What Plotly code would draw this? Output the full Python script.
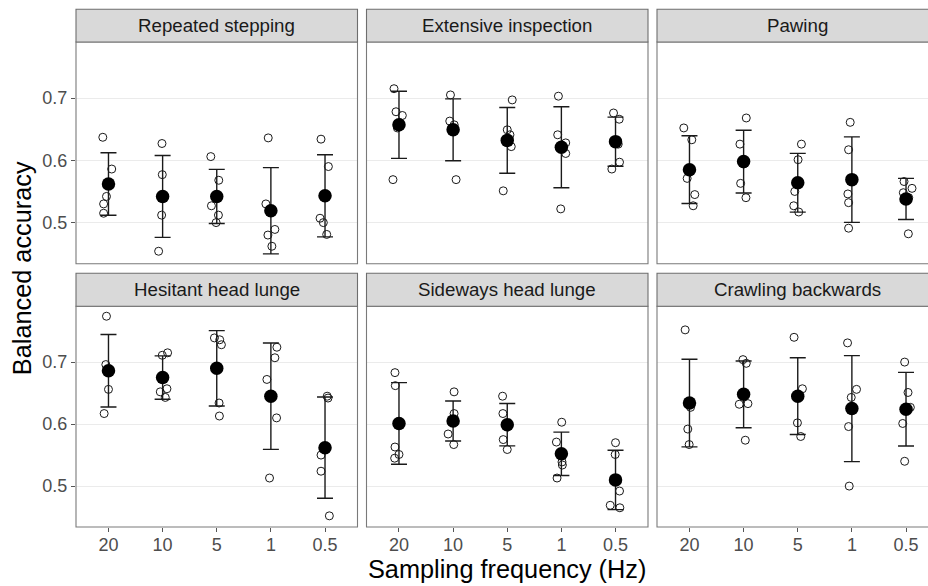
import plotly.graph_objects as go

W, H = 928, 586

behaviours = ["Repeated stepping", "Extensive inspection", "Pawing",
              "Hesitant head lunge", "Sideways head lunge", "Crawling backwards"]
freq_labels = ["20", "10", "5", "1", "0.5"]

# ---- Repeated stepping
stepping_mean = [0.562, 0.542, 0.542, 0.519, 0.543]
stepping_sd = [0.0501, 0.0657, 0.0435, 0.0692, 0.0660]
stepping_runs = [[0.637, 0.586, 0.542, 0.530, 0.515],
                 [0.627, 0.577, 0.512, 0.454, 0.541],
                 [0.606, 0.568, 0.527, 0.512, 0.500],
                 [0.636, 0.530, 0.489, 0.480, 0.462],
                 [0.634, 0.590, 0.507, 0.500, 0.481]]
stepping_jitter = [[-0.105, 0.06, -0.037, -0.09, -0.09],
                   [-0.012, -0.006, -0.018, -0.074, 0.0],
                   [-0.11, 0.037, -0.098, 0.031, -0.012],
                   [-0.049, -0.092, 0.074, -0.055, 0.018],
                   [-0.074, 0.062, -0.092, -0.031, 0.031]]

# ---- Extensive inspection
inspection_mean = [0.657, 0.649, 0.632, 0.621, 0.630]
inspection_sd = [0.0539, 0.0496, 0.0528, 0.0651, 0.0394]
inspection_runs = [[0.715, 0.678, 0.672, 0.569, 0.652],
                   [0.705, 0.663, 0.569, 0.652, 0.657],
                   [0.697, 0.649, 0.622, 0.551, 0.641],
                   [0.703, 0.641, 0.628, 0.522, 0.611],
                   [0.676, 0.666, 0.597, 0.586, 0.626]]
inspection_jitter = [[-0.092, -0.055, 0.062, -0.111, -0.03],
                     [-0.049, -0.062, 0.055, -0.03, 0.02],
                     [0.092, 0.0, 0.074, -0.074, 0.05],
                     [-0.055, -0.068, 0.08, -0.012, 0.08],
                     [-0.037, 0.068, 0.074, -0.068, 0.05]]

# ---- Pawing
pawing_mean = [0.585, 0.598, 0.564, 0.569, 0.538]
pawing_sd = [0.0544, 0.0504, 0.0472, 0.0686, 0.0330]
pawing_runs = [[0.652, 0.633, 0.571, 0.545, 0.527],
               [0.668, 0.626, 0.563, 0.540, 0.594],
               [0.626, 0.601, 0.550, 0.527, 0.517],
               [0.661, 0.617, 0.546, 0.532, 0.491],
               [0.566, 0.555, 0.482, 0.548, 0.540]]
pawing_jitter = [[-0.105, 0.043, -0.043, 0.098, 0.068],
                 [0.049, -0.068, -0.055, 0.043, 0.0],
                 [0.068, 0.006, -0.055, -0.074, 0.018],
                 [-0.031, -0.061, -0.074, -0.061, -0.061],
                 [-0.037, 0.111, 0.043, -0.05, 0.05]]

# ---- Hesitant head lunge
hesitant_mean = [0.686, 0.675, 0.690, 0.645, 0.562]
hesitant_sd = [0.0584, 0.0350, 0.0608, 0.0858, 0.0817]
hesitant_runs = [[0.774, 0.696, 0.656, 0.617, 0.688],
                 [0.715, 0.711, 0.657, 0.652, 0.643],
                 [0.739, 0.736, 0.728, 0.634, 0.613],
                 [0.724, 0.707, 0.672, 0.610, 0.513],
                 [0.642, 0.645, 0.550, 0.524, 0.452]]
hesitant_jitter = [[-0.037, -0.049, 0.0, -0.08, 0.02],
                   [0.092, -0.006, 0.08, -0.043, 0.049],
                   [-0.043, 0.055, 0.086, 0.043, 0.049],
                   [0.111, 0.074, -0.074, 0.105, -0.025],
                   [0.055, 0.04, -0.074, -0.074, 0.08]]

# ---- Sideways head lunge
sideways_mean = [0.601, 0.605, 0.599, 0.552, 0.510]
sideways_sd = [0.0659, 0.0323, 0.0342, 0.0350, 0.0479]
sideways_runs = [[0.683, 0.662, 0.563, 0.545, 0.551],
                 [0.652, 0.617, 0.584, 0.567, 0.605],
                 [0.645, 0.617, 0.575, 0.559, 0.599],
                 [0.603, 0.571, 0.539, 0.534, 0.513],
                 [0.570, 0.551, 0.492, 0.469, 0.465]]
sideways_jitter = [[-0.074, -0.068, -0.074, -0.08, 0.0],
                   [0.018, 0.018, -0.092, 0.012, -0.01],
                   [-0.086, -0.08, -0.074, 0.0, 0.01],
                   [0.006, -0.092, 0.012, 0.018, -0.08],
                   [0.0, -0.006, 0.074, -0.098, 0.08]]

# ---- Crawling backwards
crawling_mean = [0.634, 0.648, 0.645, 0.625, 0.624]
crawling_sd = [0.0707, 0.0538, 0.0619, 0.0855, 0.0594]
crawling_runs = [[0.752, 0.592, 0.567, 0.632, 0.627],
                 [0.704, 0.698, 0.632, 0.633, 0.574],
                 [0.740, 0.657, 0.602, 0.580, 0.648],
                 [0.731, 0.656, 0.643, 0.596, 0.500],
                 [0.700, 0.651, 0.601, 0.540, 0.627]]
crawling_jitter = [[-0.08, -0.031, -0.006, 0.01, 0.02],
                   [-0.012, 0.049, -0.08, 0.08, 0.031],
                   [-0.068, 0.086, -0.006, 0.055, 0.0],
                   [-0.08, 0.086, -0.012, -0.061, -0.049],
                   [-0.025, 0.037, -0.061, -0.025, 0.08]]

y_ticks = [0.5, 0.6, 0.7]
y_range = [0.434, 0.790]

panel_data = [
    (stepping_mean, stepping_sd, stepping_runs, stepping_jitter),
    (inspection_mean, inspection_sd, inspection_runs, inspection_jitter),
    (pawing_mean, pawing_sd, pawing_runs, pawing_jitter),
    (hesitant_mean, hesitant_sd, hesitant_runs, hesitant_jitter),
    (sideways_mean, sideways_sd, sideways_runs, sideways_jitter),
    (crawling_mean, crawling_sd, crawling_runs, crawling_jitter),
]

# ---- layout geometry (pixels)
col_px = [(76, 357.5), (366.5, 648), (657, 938.5)]  # last panel is cut by the image edge
row_px = [(42, 263.7), (306.3, 527)]                 # plot areas (top, bottom)
strip_px = [(9.3, 42), (273.3, 306.3)]

FONT = "Liberation Sans, Arial, sans-serif"
TICK_COL = "#4d4d4d"
BORDER = "#7a7a7a"
TICK_SIZE = 18

fig = go.Figure()
layout = dict(
    width=W, height=H, margin=dict(l=0, r=0, t=0, b=0),
    paper_bgcolor="white", plot_bgcolor="white", showlegend=False,
    font=dict(family=FONT),
)
shapes = []
annotations = []

cats = list(range(1, len(freq_labels) + 1))

for i, (mean, sd, runs, jit) in enumerate(panel_data):
    r, c = divmod(i, 3)
    k = i + 1
    xname = "x" if k == 1 else f"x{k}"
    yname = "y" if k == 1 else f"y{k}"
    x0p, x1p = col_px[c]
    y0p, y1p = row_px[r]
    full_w = x1p - x0p
    vis_x1 = min(x1p, W)
    xr_hi = 0.4 + 5.2 * (vis_x1 - x0p) / full_w
    layout[f"xaxis{k}"] = dict(
        domain=[x0p / W, vis_x1 / W], anchor=yname, range=[0.4, xr_hi],
        tickvals=cats, ticktext=freq_labels, showgrid=False, zeroline=False,
        showticklabels=(r == 1), ticks="outside" if r == 1 else "",
        ticklen=4, tickwidth=1, tickcolor="#555555", ticklabelstandoff=-3,
        tickfont=dict(size=TICK_SIZE, color=TICK_COL, family=FONT),
        showline=False, fixedrange=True,
    )
    layout[f"yaxis{k}"] = dict(
        domain=[1 - y1p / H, 1 - y0p / H], anchor=xname, range=y_range,
        tickvals=y_ticks, ticktext=[f"{v:.1f}" for v in y_ticks],
        showgrid=True, gridcolor="#ebebeb", gridwidth=1, zeroline=False,
        showticklabels=(c == 0), ticks="outside" if c == 0 else "",
        ticklen=4, tickwidth=1, tickcolor="#555555",
        tickfont=dict(size=TICK_SIZE, color=TICK_COL, family=FONT),
        showline=False, fixedrange=True,
    )

    # individual runs (open circles)
    px, py = [], []
    for j, cat in enumerate(cats):
        for v, dx in zip(runs[j], jit[j]):
            px.append(cat + dx)
            py.append(v)
    fig.add_trace(go.Scatter(
        x=px, y=py, mode="markers", xaxis=xname, yaxis=yname,
        marker=dict(symbol="circle-open", size=8, color="#1a1a1a",
                    line=dict(width=1, color="#1a1a1a")),
        hoverinfo="skip", cliponaxis=False,
    ))
    # mean +/- sd
    fig.add_trace(go.Scatter(
        x=cats, y=mean, mode="markers", xaxis=xname, yaxis=yname,
        marker=dict(symbol="circle", size=13.5, color="black"),
        error_y=dict(type="data", array=sd, visible=True, color="#1a1a1a",
                     thickness=1.4, width=8),
        cliponaxis=False,
    ))

    # panel border + strip (drawn in paper coordinates)
    shapes.append(dict(type="rect", xref="paper", yref="paper",
                       x0=x0p / W, x1=x1p / W, y0=1 - y1p / H, y1=1 - y0p / H,
                       line=dict(color=BORDER, width=1.1), fillcolor="rgba(0,0,0,0)",
                       layer="above"))
    s0, s1 = strip_px[r]
    shapes.append(dict(type="rect", xref="paper", yref="paper",
                       x0=x0p / W, x1=x1p / W, y0=1 - s1 / H, y1=1 - s0 / H,
                       line=dict(color="#6e6e6e", width=1.1), fillcolor="#d9d9d9",
                       layer="above"))
    annotations.append(dict(
        text=behaviours[i], xref="paper", yref="paper",
        x=(x0p + x1p) / 2 / W, y=1 - (s0 + s1) / 2 / H,
        xanchor="center", yanchor="middle", showarrow=False,
        font=dict(size=18.7, color="#1a1a1a", family=FONT),
    ))

# axis titles
annotations.append(dict(
    text="Sampling frequency (Hz)", xref="paper", yref="paper",
    x=(col_px[0][0] + col_px[2][1]) / 2 / W, y=1 - 569 / H,
    xanchor="center", yanchor="middle", showarrow=False,
    font=dict(size=25.3, color="black", family=FONT),
))
annotations.append(dict(
    text="Balanced accuracy", xref="paper", yref="paper",
    x=22 / W, y=1 - (strip_px[0][0] + row_px[1][1]) / 2 / H,
    xanchor="center", yanchor="middle", showarrow=False, textangle=-90,
    font=dict(size=25.3, color="black", family=FONT),
))

layout["shapes"] = shapes
layout["annotations"] = annotations
fig.update_layout(**layout)

fig.write_html("out.html")
